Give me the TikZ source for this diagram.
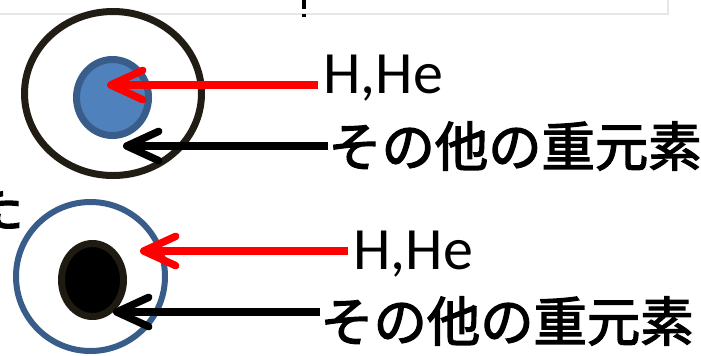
\documentclass[tikz,border=0pt]{standalone}
\usepackage{fontspec}
\setmainfont{Carlito}
\newfontfamily\jpfont{Noto Sans CJK JP}[FakeBold=2.5]
\usepackage{tikz}
\usetikzlibrary{shapes.geometric, arrows.meta}
\definecolor{ringdark}{HTML}{211D14}
\definecolor{coreblue}{HTML}{4F81BD}
\definecolor{coreedge}{HTML}{385D8A}
\definecolor{coredark}{HTML}{1F1B12}
\definecolor{frame}{HTML}{E6E6E6}
\tikzstyle{shell} = [ellipse, inner sep=0pt]
\tikzstyle{label} = [inner sep=0pt, inner xsep=3.75pt, font=\fontsize{45pt}{45pt}\selectfont]
\tikzstyle{jplabel} = [inner sep=0pt, font=\jpfont\fontsize{40pt}{40pt}\selectfont]
\tikzstyle{arrow} = [line width=5.6pt, -{Straight Barb[length=24pt, width=22pt, round]}]

\begin{document}
\begin{tikzpicture}[x=0.75pt, y=-0.75pt]
\useasboundingbox (0,0) rectangle (701,355);
\draw [frame, line width=1.5pt] (0,14) -- (668,14) -- (668,0);
\draw [black, line width=3pt] (304,0) -- (304,9) (304,14) -- (304,17);
\node [jplabel, anchor=east] (cut) at (24,207) {た};

\node (shell1) [shell, draw=ringdark, line width=5.25pt, minimum width=132.75pt, minimum height=123pt] at (113,93.5) {};
\node (core1) [shell, draw=coreedge, fill=coreblue, line width=5.25pt, minimum width=54pt, minimum height=57pt] at (112.5,97.5) {};
\node (shell2) [shell, draw=coreedge, line width=4.5pt, minimum width=111.75pt, minimum height=111.75pt] at (90.5,276.5) {};
\node (core2) [shell, draw=coredark, fill=black, line width=5.25pt, minimum width=46.5pt, minimum height=54.75pt] at (92.5,280) {};

\coordinate (tip1) at (107,85);
\coordinate (tipb1) at (123,146);
\coordinate (tip2) at (140,251);
\coordinate (tipb2) at (113,312);

\node (hhe1) [label, anchor=base west] at (318,93) {H,He};
\node (heavy1) [jplabel, anchor=west] at (328,146) {その他の重元素};
\node (hhe2) [label, anchor=base west] at (348,269) {H,He};
\node (heavy2) [jplabel, anchor=west] at (320,321) {その他の重元素};

\draw [arrow, red] (hhe1.west |- tip1) -- (tip1);
\draw [arrow, black] (heavy1.west |- tipb1) -- (tipb1);
\draw [arrow, red] (hhe2.west |- tip2) -- (tip2);
\draw [arrow, black] (heavy2.west |- tipb2) -- (tipb2);
\end{tikzpicture}
\end{document}
